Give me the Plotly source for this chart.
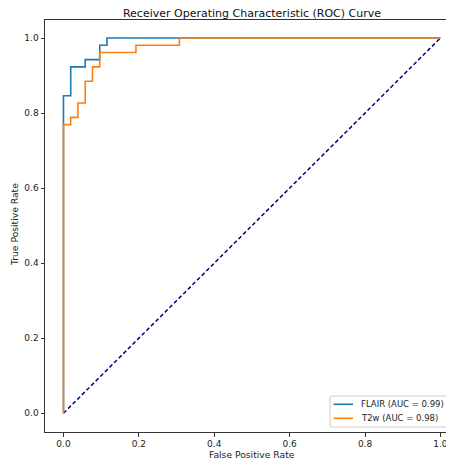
import plotly.graph_objects as go

# FLAIR ROC curve
flair_fpr = [0.0, 0.0, 0.0192, 0.0192, 0.0577, 0.0577, 0.0962, 0.0962, 0.1154, 0.1154, 1.0]
flair_tpr = [0.0, 0.8462, 0.8462, 0.9231, 0.9231, 0.9423, 0.9423, 0.9808, 0.9808, 1.0, 1.0]
flair_label = "FLAIR (AUC = 0.99)"

# T2w ROC curve
t2w_fpr = [0.0, 0.0, 0.0192, 0.0192, 0.0385, 0.0385, 0.0577, 0.0577, 0.0769, 0.0769,
           0.0962, 0.0962, 0.1923, 0.1923, 0.3077, 0.3077, 1.0]
t2w_tpr = [0.0, 0.7692, 0.7692, 0.7885, 0.7885, 0.8269, 0.8269, 0.8846, 0.8846, 0.9231,
           0.9231, 0.9615, 0.9615, 0.9808, 0.9808, 1.0, 1.0]
t2w_label = "T2w (AUC = 0.98)"

# chance line
chance_x = [0.0, 1.0]
chance_y = [0.0, 1.0]

tick_vals = [0.0, 0.2, 0.4, 0.6, 0.8, 1.0]
tick_text = ["0.0", "0.2", "0.4", "0.6", "0.8", "1.0"]

BLUE, ORANGE, NAVY = "#1f77b4", "#ff7f0e", "#000080"

# page body has an 8px margin; lay out in reference pixels minus that offset
OFF = 8
W, H = 454 - OFF, 461 - OFF
L = 45 - OFF
T = 20 - OFF
B = H - (432 - OFF)
R = 0
PW, PH = W - L - R, H - T - B


def px_x(p):
    return (p - OFF - L) / PW


def px_y(p):
    return (H - B - (p - OFF)) / PH


fig = go.Figure()
fig.add_trace(go.Scatter(x=chance_x, y=chance_y, mode="lines",
                         line=dict(color=NAVY, width=1.5, dash="4px,2.5px"),
                         showlegend=False, hoverinfo="skip"))
fig.add_trace(go.Scatter(x=flair_fpr, y=flair_tpr, mode="lines", name=flair_label,
                         line=dict(color=BLUE, width=1.6), showlegend=False))
fig.add_trace(go.Scatter(x=t2w_fpr, y=t2w_tpr, mode="lines", name=t2w_label,
                         line=dict(color=ORANGE, width=1.6), showlegend=False))

tickf = dict(family="DejaVu Sans", size=9, color="#222222")
labf = dict(family="DejaVu Sans", size=9.2, color="#222222")
legf = dict(family="DejaVu Sans", size=8.5, color="#222222")

# legend drawn as a framed box with sample lines and labels
lx0, lx1, ly0, ly1, rad = 330, 452, 396, 427, 2
shapes = [dict(
    type="path", xref="paper", yref="paper",
    path=(f"M {px_x(lx0 + rad)},{px_y(ly0)} L {px_x(lx1 - rad)},{px_y(ly0)} "
          f"Q {px_x(lx1)},{px_y(ly0)} {px_x(lx1)},{px_y(ly0 + rad)} "
          f"L {px_x(lx1)},{px_y(ly1 - rad)} Q {px_x(lx1)},{px_y(ly1)} {px_x(lx1 - rad)},{px_y(ly1)} "
          f"L {px_x(lx0 + rad)},{px_y(ly1)} Q {px_x(lx0)},{px_y(ly1)} {px_x(lx0)},{px_y(ly1 - rad)} "
          f"L {px_x(lx0)},{px_y(ly0 + rad)} Q {px_x(lx0)},{px_y(ly0)} {px_x(lx0 + rad)},{px_y(ly0)} Z"),
    fillcolor="rgba(255,255,255,0.8)", line=dict(color="#cccccc", width=1), layer="above")]
annotations = []
for label, color, yc in [(flair_label, BLUE, 404.3), (t2w_label, ORANGE, 418.3)]:
    shapes.append(dict(type="line", xref="paper", yref="paper",
                       x0=px_x(333.5), x1=px_x(353), y0=px_y(yc), y1=px_y(yc),
                       line=dict(color=color, width=1.6), layer="above"))
    annotations.append(dict(text=label, xref="paper", yref="paper",
                            x=px_x(359), y=px_y(yc), xanchor="left", yanchor="middle",
                            showarrow=False, font=legf))

annotations += [
    dict(text="False Positive Rate", xref="paper", yref="paper",
         x=px_x(251.5), y=px_y(454.5), xanchor="center", yanchor="middle",
         showarrow=False, font=labf),
    dict(text="True Positive Rate", xref="paper", yref="paper",
         x=px_x(14), y=px_y(225), xanchor="center", yanchor="middle",
         textangle=-90, showarrow=False, font=labf),
]

fig.update_layout(
    template="none",
    width=W, height=H,
    margin=dict(l=L, r=R, t=T, b=B, pad=0, autoexpand=False),
    paper_bgcolor="white", plot_bgcolor="white",
    font=tickf,
    showlegend=False,
    title=dict(text="Receiver Operating Characteristic (ROC) Curve",
               x=(252 - OFF) / W, xanchor="center",
               y=1 - (13.5 - OFF) / H, yanchor="middle",
               font=dict(family="DejaVu Sans", size=11, color="#111111")),
    xaxis=dict(range=[-0.049, 1.036], tickvals=tick_vals, ticktext=tick_text,
               showgrid=False, zeroline=False, showline=True, linecolor="#333333",
               linewidth=1, mirror=True, ticks="outside", ticklen=3.5,
               tickcolor="#333333", tickwidth=1, automargin=False, tickfont=tickf),
    yaxis=dict(range=[-0.05, 1.048], tickvals=tick_vals, ticktext=tick_text,
               showgrid=False, zeroline=False, showline=True, linecolor="#333333",
               linewidth=1, mirror=False, ticks="outside", ticklen=3.5,
               tickcolor="#333333", tickwidth=1, automargin=False, tickfont=tickf),
    shapes=shapes,
    annotations=annotations,
)

fig.write_html("out.html")
